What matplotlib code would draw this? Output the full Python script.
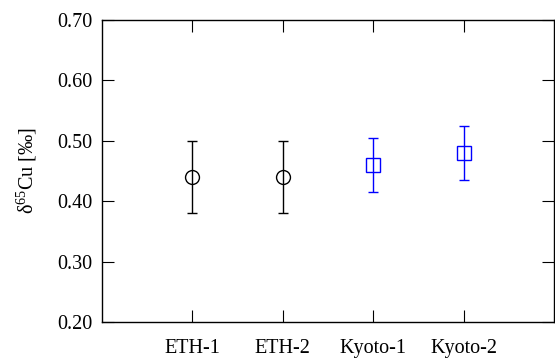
import matplotlib
matplotlib.use("Agg")
import matplotlib.pyplot as plt

plt.rcParams["font.family"] = ["Liberation Serif", "DejaVu Serif"]
plt.rcParams["mathtext.fontset"] = "custom"
plt.rcParams["mathtext.rm"] = "Liberation Serif"
plt.rcParams["mathtext.default"] = "regular"

# datos
muestras = ["ETH-1", "ETH-2", "Kyoto-1", "Kyoto-2"]
delta_eth = [0.44, 0.44]
err_eth = [0.06, 0.06]
delta_kyoto = [0.46, 0.48]
err_kyoto = [0.045, 0.045]
y_ticks = [0.2, 0.3, 0.4, 0.5, 0.6, 0.7]

fig = plt.figure(figsize=(5.55, 3.58), dpi=100)
ax = fig.add_axes([0.184, 0.1006, 0.814, 0.8436])

x_eth = [1, 2]
x_kyoto = [3, 4]
ax.errorbar(x_eth, delta_eth, yerr=err_eth, fmt="o", mfc="none", mec="black",
            ecolor="black", color="black", ms=10, mew=1.0, capsize=3.3,
            elinewidth=1.0, capthick=1.0)
ax.errorbar(x_kyoto, delta_kyoto, yerr=err_kyoto, fmt="s", mfc="none", mec="#0000ff",
            ecolor="#0000ff", color="#0000ff", ms=10, mew=1.0, capsize=3.3,
            elinewidth=1.0, capthick=1.0)

ax.set_xlim(0, 5)
ax.set_ylim(0.20, 0.70)
ax.set_xticks([1, 2, 3, 4])
ax.set_xticklabels(muestras)
ax.set_yticks(y_ticks)
ax.set_yticklabels([f"{v:.2f}" for v in y_ticks])
ax.tick_params(direction="in", top=True, right=True, length=8.5, width=0.8,
               labelsize=14.5)
ax.tick_params(axis="y", pad=7)
ax.tick_params(axis="x", pad=12)
for s in ax.spines.values():
    s.set_linewidth(1.0)

ax.set_ylabel(r"δ$^{65}$Cu [‰]", fontsize=14.5)
ax.yaxis.set_label_coords(-0.14, 0.5)

fig.savefig("out.png", dpi=100)
plt.close(fig)
